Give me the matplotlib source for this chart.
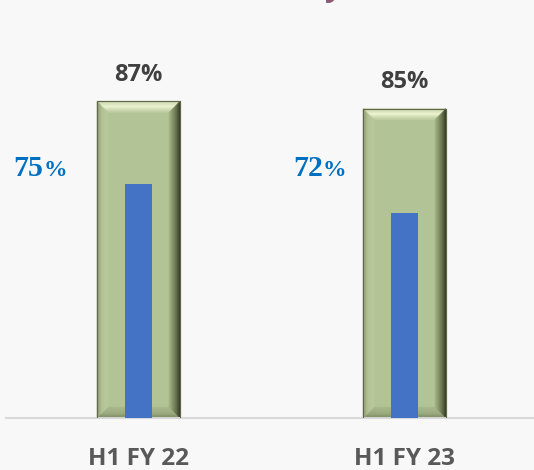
import numpy as np
import matplotlib
matplotlib.use("Agg")
import matplotlib.pyplot as plt
from matplotlib.patches import Polygon
from matplotlib.colors import to_rgb

# data
categories = ["H1 FY 22", "H1 FY 23"]
outer_values = [87, 85]   # green beveled bars
inner_values = [75, 72]   # blue bars (secondary axis)

BG = "#f8f8f8"
GREEN = "#b2c395"
BLUE = "#4472c4"
LABEL_BLUE = "#0070c0"
SANS = ["Open Sans", "DejaVu Sans"]


def mix(c1, c2, t):
    a, b = np.array(to_rgb(c1)), np.array(to_rgb(c2))
    return tuple(a + (b - a) * t)


def bevel(ax, x0, x1, y0, y1, bx, by, n=12):
    # ring strips between nested rectangles, coloured per side
    sides = {
        "top": ("#c7d3a9", "#eef6d3", "#bdcca0"),
        "left": ("#8a966d", "#b6c598", "#bac99c"),
        "bottom": ("#77825b", "#9dac80", "#a9b88c"),
        "right": ("#2f3522", "#6f7b53", "#a7b589"),
    }
    for i in range(n):
        ti, tj = i / n, (i + 1) / n
        a = (x0 + ti * bx, y0 + ti * by, x1 - ti * bx, y1 - ti * by)
        b = (x0 + tj * bx, y0 + tj * by, x1 - tj * bx, y1 - tj * by)
        polys = {
            "top": [(a[0], a[3]), (a[2], a[3]), (b[2], b[3]), (b[0], b[3])],
            "bottom": [(a[0], a[1]), (a[2], a[1]), (b[2], b[1]), (b[0], b[1])],
            "left": [(a[0], a[1]), (a[0], a[3]), (b[0], b[3]), (b[0], b[1])],
            "right": [(a[2], a[1]), (a[2], a[3]), (b[2], b[3]), (b[2], b[1])],
        }
        t = (i + 0.5) / n
        for side, pts in polys.items():
            c_edge, c_mid, c_in = sides[side]
            col = mix(c_edge, c_mid, t * 2) if t < 0.5 else mix(c_mid, c_in, (t - 0.5) * 2)
            ax.add_patch(Polygon(pts, closed=True, facecolor=col, edgecolor=col,
                                 linewidth=0.3, zorder=2))


fig = plt.figure(figsize=(5.34, 4.70), dpi=100, facecolor=BG)
ax = fig.add_axes([5.5 / 534, 52 / 470, 532 / 534, 364 / 470])
ax.set_facecolor(BG)
ax.set_xlim(-0.5, 1.5)
ax.set_ylim(0, 100)

x = np.arange(len(categories))
w_outer = 0.312
bars = ax.bar(x, outer_values, width=w_outer, color=GREEN, edgecolor="#5f6748",
              linewidth=0.8, zorder=1)

# bevel size in data units (~11 px)
bx = 11 / 266
by = 11 / 3.64
for r in bars:
    x0, y0 = r.get_x(), r.get_y()
    bevel(ax, x0, x0 + r.get_width(), y0, y0 + r.get_height(), bx, by)
    ax.add_patch(plt.Rectangle((x0, y0), r.get_width(), r.get_height(), fill=False,
                               edgecolor="#5f6748", linewidth=0.8, zorder=3))

for xi, v in zip(x, outer_values):
    ax.annotate(f"{v}%", (xi, v), xytext=(0, 19), textcoords="offset points",
                ha="center", va="center", fontsize=17, fontweight="bold",
                family=SANS, color="#404040")

ax.set_xticks(x)
ax.set_xticklabels(categories, fontsize=17.5, fontweight="bold", family=SANS, color="#595959")
ax.tick_params(axis="x", length=0, pad=21)
ax.set_yticks([])
for s in ["top", "left", "right"]:
    ax.spines[s].set_visible(False)
ax.spines["bottom"].set_color("#d9d9d9")
ax.spines["bottom"].set_linewidth(1.5)

ax2 = ax.twinx()
ax2.set_ylim(50.8, 88.4)
ax2.bar(x, inner_values, width=0.1, color=BLUE, zorder=4)
ax2.set_yticks([])
for s in ["top", "left", "right", "bottom"]:
    ax2.spines[s].set_visible(False)

# blue value labels left of the bars
label_offsets = [-0.358, -0.307]
for xi, v, off in zip(x, inner_values, label_offsets):
    ax.text(xi + off, 66.5, f"{v}", ha="right", va="baseline", fontsize=21.5,
            fontweight="bold", family="Liberation Serif", color=LABEL_BLUE)
    ax.text(xi + off, 66.5, "%", ha="left", va="baseline", fontsize=17,
            fontweight="bold", family="Liberation Serif", color=LABEL_BLUE)

# fragment of the cut-off title (only the descender shows)
fig.text(324 / 534, 1.0 + 4 / 470, "y", ha="left", va="baseline", fontsize=22,
         fontweight="bold", family=SANS, color="#8e5a73")

fig.savefig("out.png", dpi=100, facecolor=BG)
